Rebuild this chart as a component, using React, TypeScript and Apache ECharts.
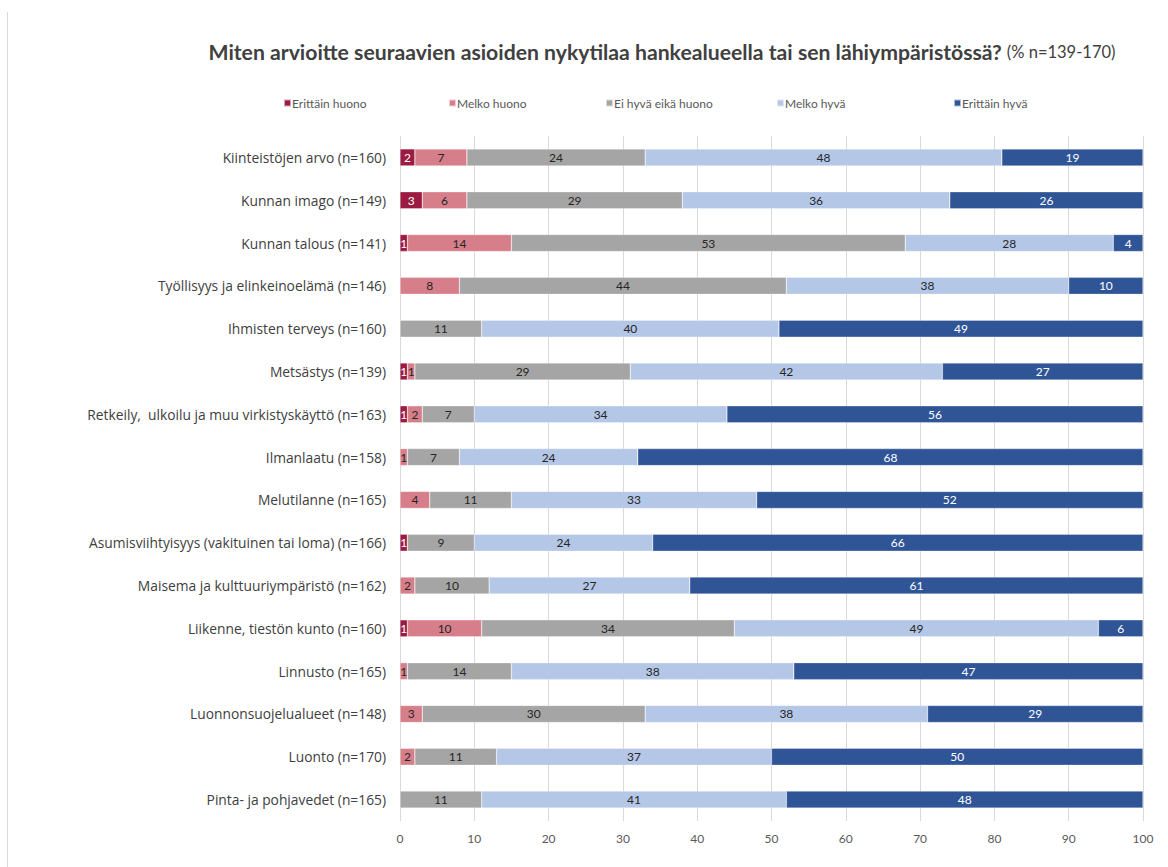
import React, { useEffect, useRef } from "react";
import * as echarts from "echarts";

const categories = [
  "Kiinteistöjen arvo (n=160)",
  "Kunnan imago (n=149)",
  "Kunnan talous (n=141)",
  "Työllisyys ja elinkeinoelämä (n=146)",
  "Ihmisten terveys (n=160)",
  "Metsästys (n=139)",
  "Retkeily,  ulkoilu ja muu virkistyskäyttö (n=163)",
  "Ilmanlaatu (n=158)",
  "Melutilanne (n=165)",
  "Asumisviihtyisyys (vakituinen tai loma) (n=166)",
  "Maisema ja kulttuuriympäristö (n=162)",
  "Liikenne, tiestön kunto (n=160)",
  "Linnusto (n=165)",
  "Luonnonsuojelualueet (n=148)",
  "Luonto (n=170)",
  "Pinta- ja pohjavedet (n=165)",
];

const erittainHuono = [2, 3, 1, 0, 0, 1, 1, 0, 0, 1, 0, 1, 0, 0, 0, 0];
const melkoHuono = [7, 6, 14, 8, 0, 1, 2, 1, 4, 0, 2, 10, 1, 3, 2, 0];
const eiHyvaEikaHuono = [24, 29, 53, 44, 11, 29, 7, 7, 11, 9, 10, 34, 14, 30, 11, 11];
const melkoHyva = [48, 36, 28, 38, 40, 42, 34, 24, 33, 24, 27, 49, 38, 38, 37, 41];
const erittainHyva = [19, 26, 4, 10, 49, 27, 56, 68, 52, 66, 61, 6, 47, 29, 50, 48];

const seriesNames = ["Erittäin huono", "Melko huono", "Ei hyvä eikä huono", "Melko hyvä", "Erittäin hyvä"];
const seriesColors = ["#9B1B42", "#D67F8A", "#A5A5A5", "#B4C7E7", "#2F5597"];
const labelColors = ["#FFFFFF", "#262626", "#262626", "#262626", "#FFFFFF"];
const seriesData = [erittainHuono, melkoHuono, eiHyvaEikaHuono, melkoHyva, erittainHyva];
const xTicks = [0, 10, 20, 30, 40, 50, 60, 70, 80, 90, 100];
const legendLeft = [283, 448, 605, 776, 953];

export default function App() {
  const ref = useRef<HTMLDivElement>(null);
  useEffect(() => {
    document.body.style.margin = "0";
    const chart = echarts.init(ref.current!, null, { renderer: "svg" });
    const font = "Lato, 'Open Sans', sans-serif";
    chart.setOption({
      animation: false,
      backgroundColor: "#FFFFFF",
      title: {
        text: "{b|Miten arvioitte seuraavien asioiden nykytilaa hankealueella tai sen lähiympäristössä?} {n|(% n=139-170)}",
        left: 662,
        textAlign: "center",
        top: 41,
        padding: 0,
        textStyle: {
          rich: {
            b: { fontFamily: font, fontWeight: "bold", fontSize: 21.2, color: "#404040" },
            n: { fontFamily: font, fontWeight: "normal", fontSize: 16.5, color: "#404040" },
          },
        },
      },
      legend: seriesNames.map((n, i) => ({
        data: [n],
        left: legendLeft[i],
        top: 97,
        padding: 0,
        itemWidth: 7,
        itemHeight: 7,
        itemGap: 3,
        icon: "rect",
        textStyle: { fontFamily: font, fontSize: 12, color: "#595959", padding: [0, 0, 0, -4] },
        selectedMode: false,
      })),
      grid: { left: 400, right: 25, top: 136, bottom: 46, containLabel: false },
      xAxis: {
        type: "value",
        min: 0,
        max: 100,
        interval: 10,
        axisLine: { show: false },
        axisTick: { show: false },
        splitLine: { show: true, lineStyle: { color: "#D9D9D9", width: 1 } },
        axisLabel: {
          fontFamily: font,
          fontSize: 12,
          color: "#595959",
          margin: 11,
          formatter: (v: number) => (xTicks.includes(v) ? String(v) : ""),
        },
      },
      yAxis: {
        type: "category",
        data: categories,
        inverse: true,
        axisLine: { show: false },
        axisTick: { show: false },
        axisLabel: { fontFamily: "'Open Sans', sans-serif", fontSize: 13.8, color: "#404040", margin: 14 },
      },
      graphic: [
        {
          type: "line",
          shape: { x1: 7.5, y1: 12, x2: 7.5, y2: 867 },
          style: { stroke: "#D9D9D9", lineWidth: 1 },
        },
      ],
      series: seriesNames.map((n, i) => ({
        name: n,
        type: "bar",
        stack: "total",
        barWidth: 17,
        data: seriesData[i],
        itemStyle: { color: seriesColors[i], borderColor: "rgba(255,255,255,0.6)", borderWidth: 0.5 },
        label: {
          show: true,
          position: "inside",
          fontFamily: font,
          fontSize: 12,
          color: labelColors[i],
          formatter: (p: any) => (p.value > 0 ? String(p.value) : ""),
        },
      })),
    });
    return () => chart.dispose();
  }, []);
  return <div ref={ref} style={{ width: 1168, height: 867 }} />;
}
